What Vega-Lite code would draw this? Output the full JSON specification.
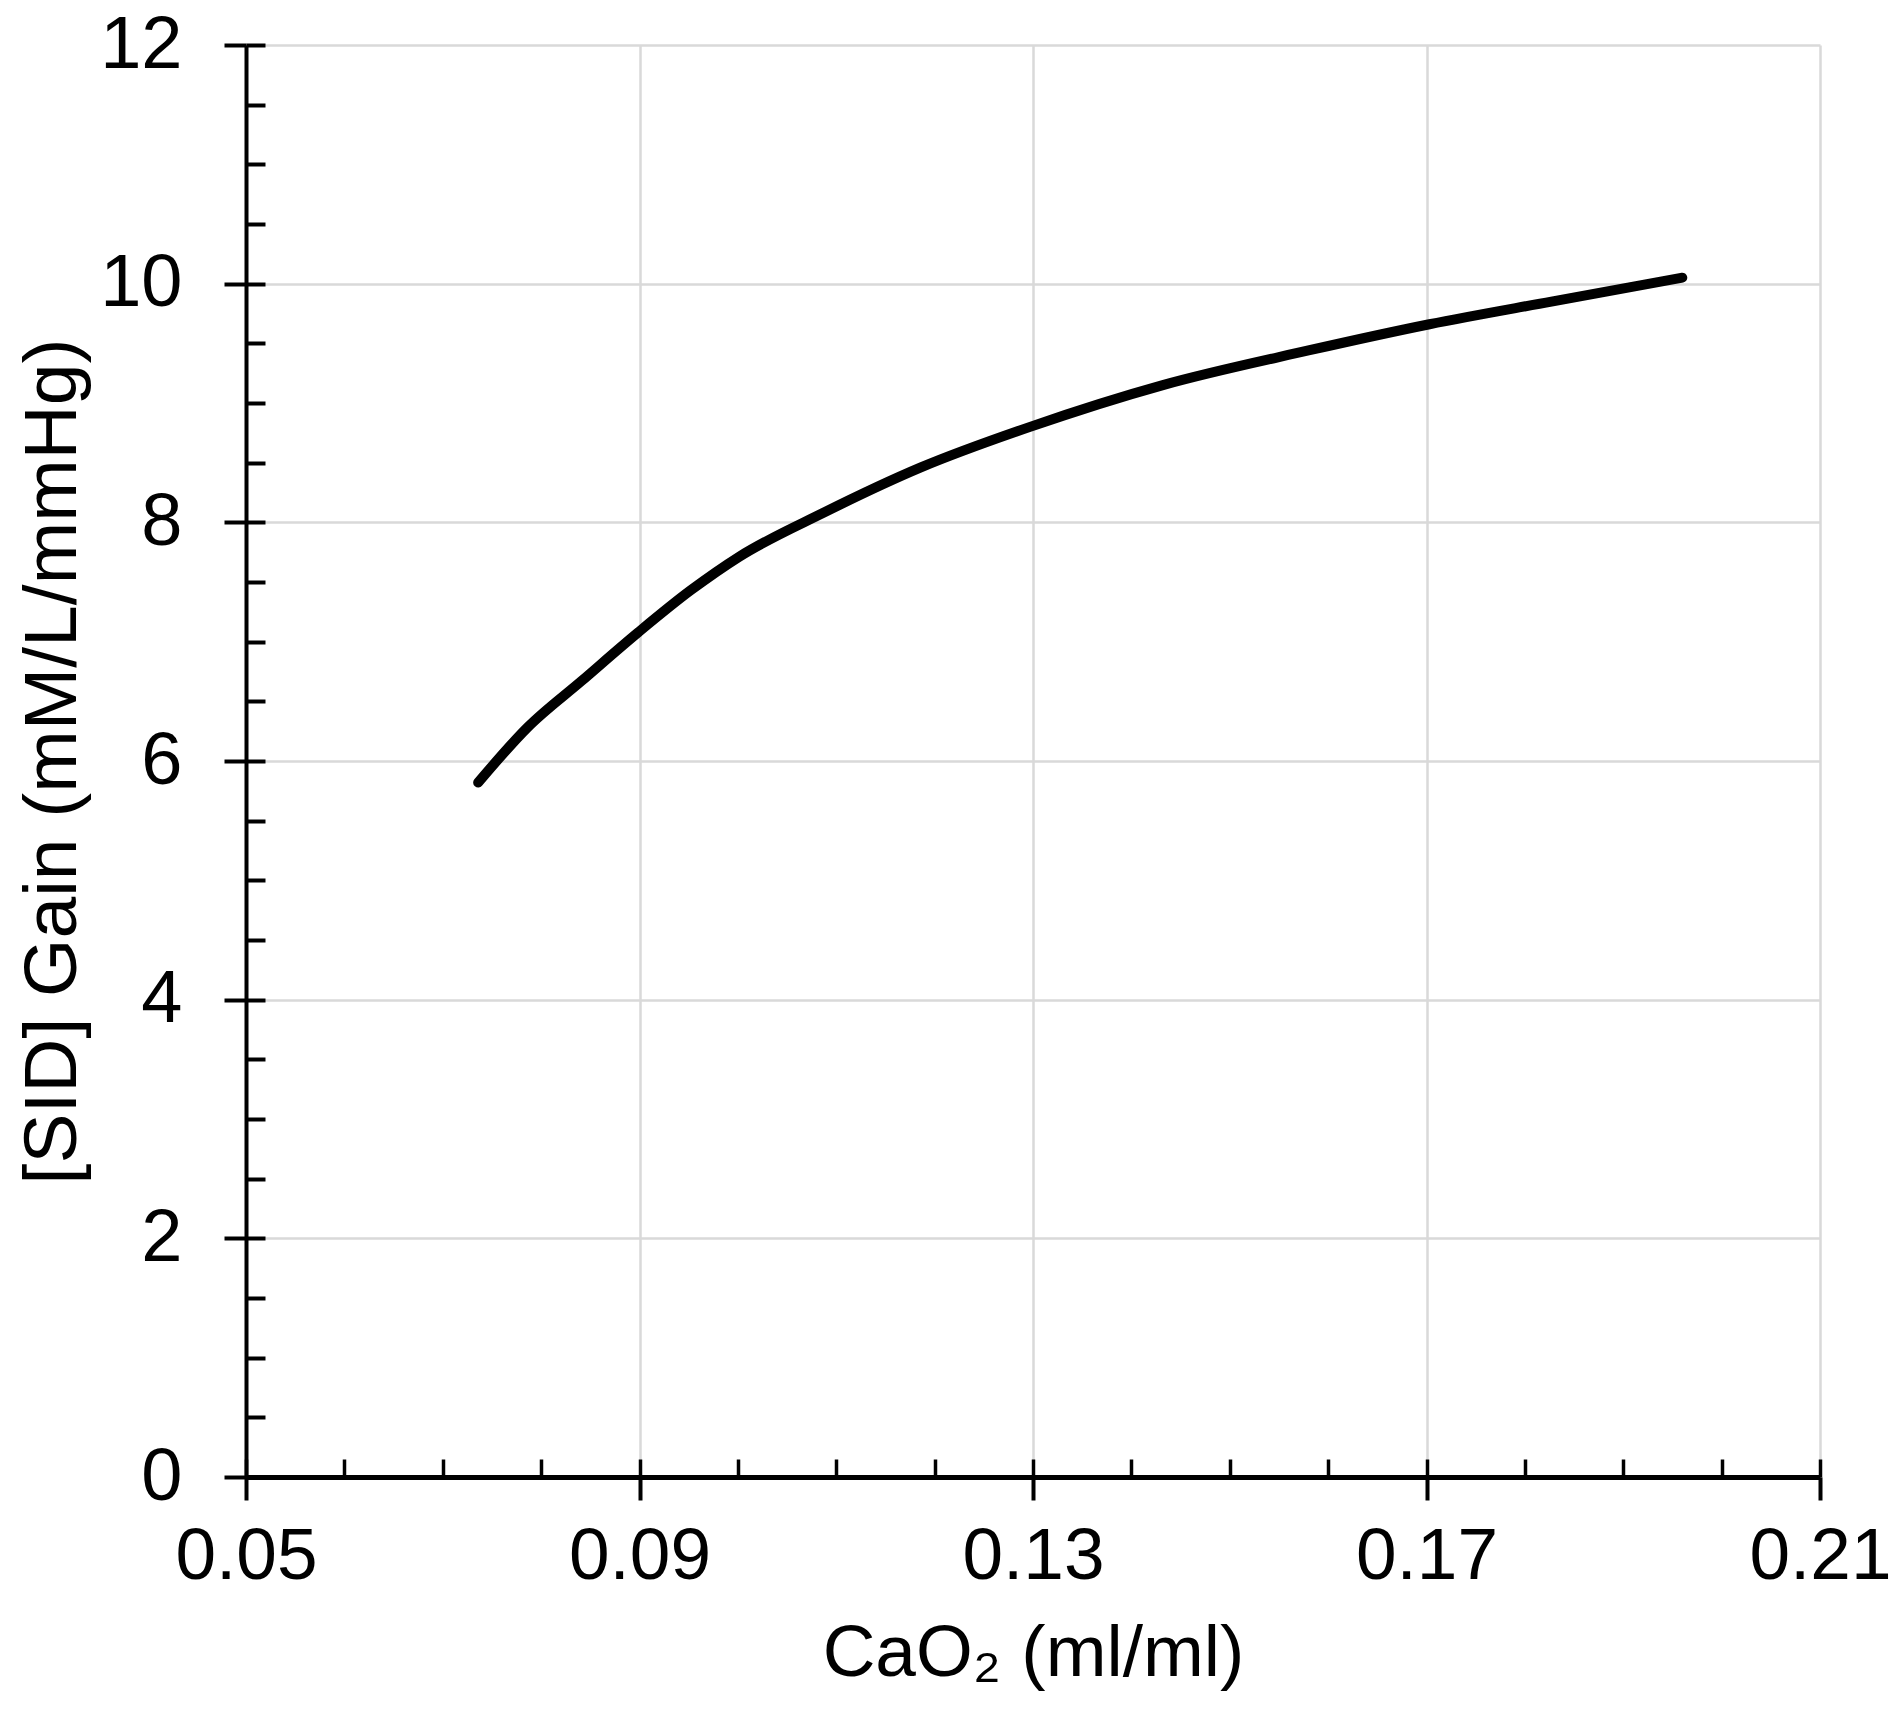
{
  "$schema": "https://vega.github.io/schema/vega-lite/v6.json",
  "width": 1574,
  "height": 1432,
  "autosize": "none",
  "padding": {"left": 246, "top": 45, "right": 80, "bottom": 242},
  "background": "white",
  "config": {
    "view": {"stroke": null},
    "font": "Liberation Sans",
    "axis": {
      "labelFont": "Liberation Sans",
      "titleFont": "Liberation Sans",
      "labelColor": "black",
      "titleColor": "black",
      "labelFontWeight": "normal",
      "titleFontWeight": "normal",
      "domainColor": "black",
      "tickColor": "black",
      "gridColor": "#d9d9d9",
      "gridWidth": 2.5
    }
  },
  "data": {
    "values": [
      {"cao2": 0.0736, "gain": 5.82},
      {"cao2": 0.0786, "gain": 6.28},
      {"cao2": 0.0841, "gain": 6.67},
      {"cao2": 0.0899, "gain": 7.08},
      {"cao2": 0.0952, "gain": 7.43},
      {"cao2": 0.1001, "gain": 7.71},
      {"cao2": 0.1087, "gain": 8.08},
      {"cao2": 0.1186, "gain": 8.46},
      {"cao2": 0.1297, "gain": 8.8},
      {"cao2": 0.1432, "gain": 9.15},
      {"cao2": 0.158, "gain": 9.44},
      {"cao2": 0.1703, "gain": 9.66},
      {"cao2": 0.1827, "gain": 9.85},
      {"cao2": 0.196, "gain": 10.05}
    ]
  },
  "resolve": {"axis": {"x": "independent", "y": "independent"}},
  "layer": [
    {
      "mark": {"type": "line", "color": "black", "strokeWidth": 10, "strokeCap": "round", "interpolate": "monotone"},
      "encoding": {
        "x": {
          "field": "cao2",
          "type": "quantitative",
          "scale": {"domain": [0.05, 0.21], "nice": false, "zero": false},
          "axis": {
            "orient": "bottom",
            "title": "CaO₂ (ml/ml)",
            "titleFontSize": 73,
            "titlePadding": 24,
            "values": [0.05, 0.09, 0.13, 0.17, 0.21],
            "format": ".2f",
            "labelFontSize": 73,
            "labelPadding": 20,
            "labelFlush": false,
            "tickSize": 23,
            "tickWidth": 4,
            "domainWidth": 5,
            "grid": true,
            "gridWidth": 2.5
          }
        },
        "y": {
          "field": "gain",
          "type": "quantitative",
          "scale": {"domain": [0, 12], "nice": false},
          "axis": {
            "orient": "left",
            "title": "[SID] Gain (mM/L/mmHg)",
            "titleFontSize": 75,
            "titlePadding": 8,
            "values": [0, 2, 4, 6, 8, 10, 12],
            "labelFontSize": 74,
            "labelPadding": 42,
            "labelFlush": false,
            "tickSize": 22,
            "tickWidth": 4,
            "domainWidth": 4,
            "grid": true
          }
        }
      }
    },
    {
      "mark": {"type": "line", "opacity": 0},
      "encoding": {
        "x": {
          "field": "cao2",
          "type": "quantitative",
          "axis": {
            "orient": "bottom",
            "title": null,
            "labels": false,
            "domain": false,
            "grid": false,
            "values": [0.05, 0.06, 0.07, 0.08, 0.09, 0.1, 0.11, 0.12, 0.13, 0.14, 0.15, 0.16, 0.17, 0.18, 0.19, 0.2, 0.21],
            "tickSize": -18,
            "tickWidth": 3.5
          }
        },
        "y": {
          "field": "gain",
          "type": "quantitative",
          "axis": {
            "orient": "left",
            "title": null,
            "labels": false,
            "domain": false,
            "grid": false,
            "values": [0, 0.5, 1, 1.5, 2, 2.5, 3, 3.5, 4, 4.5, 5, 5.5, 6, 6.5, 7, 7.5, 8, 8.5, 9, 9.5, 10, 10.5, 11, 11.5, 12],
            "tickSize": -19,
            "tickWidth": 4
          }
        }
      }
    }
  ]
}
